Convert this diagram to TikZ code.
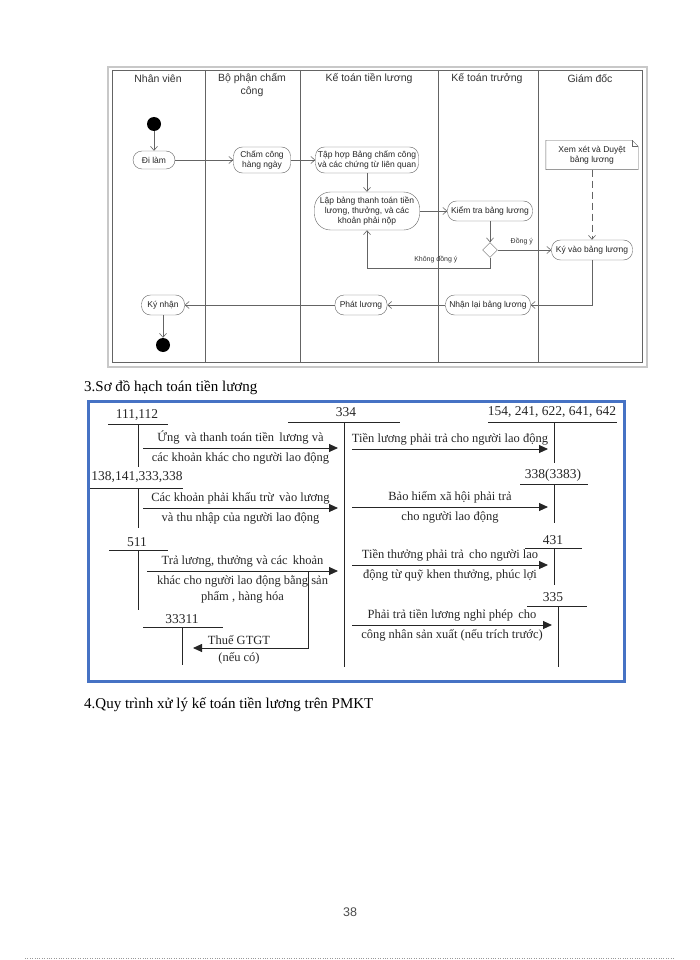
\documentclass[tikz,border=0pt]{standalone}
\usepackage{fontspec}
\setmainfont{Liberation Serif}
\newfontfamily\lanefont{Liberation Sans}
\usetikzlibrary{arrows.meta,shapes.geometric,positioning}
\definecolor{lanegray}{RGB}{100,100,100}
\definecolor{shadowgray}{RGB}{200,200,200}
\definecolor{frameblue}{RGB}{70,114,196}

\begin{document}
\begin{tikzpicture}[x=1pt,y=-1pt,
lane/.style={font=\lanefont\fontsize{10.5}{13}\selectfont,text=black!80,align=center},
act/.style={draw=lanegray,rounded corners=9pt,font=\lanefont\fontsize{8.5}{9.8}\selectfont,text=black!85,align=center,inner xsep=1pt,inner ysep=1pt,minimum height=20pt},
flow/.style={draw=lanegray,line width=0.6pt,-{Straight Barb[length=4pt,width=7pt]}},
dot/.style={circle,fill=black,minimum size=14pt,inner sep=0pt},
tline/.style={line width=0.9pt,draw=black!85},
post/.style={line width=0.9pt,draw=black!85,-{Triangle[length=9pt,width=8pt]}},
acct/.style={font=\fontsize{13.5}{15}\selectfont,text=black!85,inner sep=1pt},
entry/.style={font=\fontsize{12.5}{16}\selectfont,text=black!85,align=center,inner sep=1pt},
heading/.style={font=\fontsize{15}{18}\selectfont,anchor=base west,inner sep=0pt}]
\useasboundingbox (0,0) rectangle (700,960);

% swimlanes
\draw[shadowgray,line width=1.5pt] (108,67) rectangle (647,367);
\draw[lanegray,fill=white] (112,70) rectangle (642,362);
\foreach \x in {205,300,438,538}
  \draw[lanegray] (\x,70) -- (\x,362);
\node[lane] (hnv) at (158,79) {Nhân viên};
\node[lane] (hbp) at (252,85.5) {Bộ phận chấm\\công};
\node[lane] (hkt) at (369,79) {Kế toán tiền lương};
\node[lane] (hktt) at (487,79) {Kế toán trưởng};
\node[lane] (hgd) at (590,79) {Giám đốc};

% activities
\node[dot] (start) at (154,124) {};
\node[act,minimum width=42pt,minimum height=18pt] (dilam) at (154,160) {Đi làm};
\node[act,minimum width=57pt,minimum height=26pt] (chamcong) at (262,160) {Chấm công\\hàng ngày};
\node[act,minimum width=103pt,minimum height=26pt] (taphop) at (367,160) {Tập hợp Bảng chấm công\\và các chứng từ liên quan};
\node[act,rounded corners=16pt,minimum width=105pt,minimum height=38pt] (lapbang) at (367,211) {Lập bảng thanh toán tiền\\lương, thưởng, và các\\khoản phải nộp};
\node[act,minimum width=85pt] (kiemtra) at (490,211) {Kiểm tra bảng lương};
\node[draw=lanegray,diamond,minimum width=15pt,minimum height=15pt,inner sep=0pt] (dec) at (490,250) {};
\node[act,minimum width=81pt] (kyvao) at (592,250) {Ký vào bảng lương};
\node[act,draw=none,minimum width=92pt,minimum height=29pt] (note) at (592,155) {Xem xét và Duyệt\\bảng lương};
\draw[lanegray] (note.north west) -- ([xshift=-6pt]note.north east) -- ([yshift=-6pt]note.north east)
  -- (note.south east) -- (note.south west) -- cycle;
\draw[lanegray] ([xshift=-6pt]note.north east) |- ([yshift=-6pt]note.north east);
\node[act,minimum width=85pt] (nhanlai) at (488,305) {Nhận lại bảng lương};
\node[act,minimum width=52pt] (phatluong) at (361,305) {Phát lương};
\node[act,minimum width=43pt] (kynhan) at (163,305) {Ký nhận};
\node[dot] (end) at (163,345) {};
\coordinate (nobend) at (367,268);

\draw[flow] (start) -- (dilam);
\draw[flow] (dilam) -- (chamcong);
\draw[flow] (chamcong) -- (taphop);
\draw[flow] (taphop) -- (lapbang);
\draw[flow] (lapbang) -- (kiemtra);
\draw[flow] (kiemtra) -- (dec);
\draw[flow] (dec) -- node[above=1pt,font=\lanefont\fontsize{7}{8}\selectfont,text=black!80,pos=0.45] {Đồng ý} (kyvao);
\draw[flow] (dec.south) |- node[pos=0.72,above=1pt,font=\lanefont\fontsize{7}{8}\selectfont,text=black!80] {Không đồng ý} (nobend) -- (lapbang.south);
\draw[flow,dash pattern=on 7pt off 4pt] (note) -- (kyvao);
\draw[flow] (kyvao.south) |- (nhanlai.east);
\draw[flow] (nhanlai) -- (phatluong);
\draw[flow] (phatluong) -- (kynhan);
\draw[flow] (kynhan) -- (end);

% headings
\node[heading] (h3) at (84,391) {3.Sơ đồ hạch toán tiền lương};
\node[heading] (h4) at (84,708) {4.Quy trình xử lý kế toán tiền lương trên PMKT};

% T accounts
\draw[frameblue,line width=3pt] (88,401) rectangle (624,681);
\node[acct] (a111) at (137,415) {111,112};
\draw[tline] (108,424) -- (168,424) (138,424) -- (138,467);
\node[acct] (a138) at (137,477) {138,141,333,338};
\draw[tline] (90,488) -- (183,488) (138,488) -- (138,528);
\node[acct] (a511) at (137,542) {511};
\draw[tline] (109,550) -- (168,550) (138,550) -- (138,610);
\node[acct] (a33311) at (182,619) {33311};
\draw[tline] (143,627) -- (223,627) (182,627) -- (182,665);
\node[acct] (a334) at (346,412) {334};
\draw[tline] (288,422) -- (400,422) (344,422) -- (344,667);
\node[acct] (a154) at (552,412) {154, 241, 622, 641, 642};
\draw[tline] (488,422) -- (617,422) (554,422) -- (554,463);
\node[acct] (a338) at (553,475) {338(3383)};
\draw[tline] (520,484) -- (588,484) (554,484) -- (554,523);
\node[acct] (a431) at (553,540) {431};
\draw[tline] (525,548) -- (582,548) (554,548) -- (554,585);
\node[acct] (a335) at (553,597) {335};
\draw[tline] (527,606) -- (587,606) (558,606) -- (558,667);

\coordinate (u1) at (143,448); \coordinate (v1) at (338,448);
\coordinate (u2) at (143,508); \coordinate (v2) at (338,508);
\coordinate (u3) at (147,571); \coordinate (v3) at (338,571);
\coordinate (g1) at (308,571); \coordinate (g2) at (193,648);
\coordinate (u4) at (352,449); \coordinate (v4) at (548,449);
\coordinate (u5) at (352,507); \coordinate (v5) at (548,507);
\coordinate (u6) at (352,565); \coordinate (v6) at (548,565);
\coordinate (u7) at (352,625); \coordinate (v7) at (552,625);

\draw[post] (u1) -- node[entry,above=2pt] {Ứng\, và thanh toán tiền\, lương và} node[entry,below=3pt] {các khoản khác cho người lao động} (v1);
\draw[post] (u2) -- node[entry,above=2pt] {Các khoản phải khấu trừ\, vào lương} node[entry,below=3pt] {và thu nhập của người lao động} (v2);
\draw[post] (u3) -- node[entry,above=2pt] {Trả lương, thưởng và các\, khoản} node[entry,below=3pt] {khác cho người lao động bằng sản\\phẩm , hàng hóa} (v3);
\draw[post] (g1) |- node[pos=0.8,entry,above=2pt] {Thuế GTGT} node[pos=0.8,entry,below=3pt] {(nếu có)} (g2);
\draw[post] (u4) -- node[entry,above=2pt] {Tiền lương phải trả cho người lao động} (v4);
\draw[post] (u5) -- node[entry,above=2pt] {Bảo hiểm xã hội phải trả} node[entry,below=3pt] {cho người lao động} (v5);
\draw[post] (u6) -- node[entry,above=2pt] {Tiền thưởng phải trả\, cho người lao} node[entry,below=3pt] {động từ quỹ khen thưởng, phúc lợi} (v6);
\draw[post] (u7) -- node[entry,above=2pt] {Phải trả tiền lương nghỉ phép\, cho} node[entry,below=3pt] {công nhân sản xuất (nếu trích trước)} (v7);

% page
\node[font=\lanefont\fontsize{12.5}{14}\selectfont,text=black!70] (pageno) at (350,912) {38};
\draw[black!40,dotted] (25,958) -- (674,958);
\end{tikzpicture}
\end{document}
